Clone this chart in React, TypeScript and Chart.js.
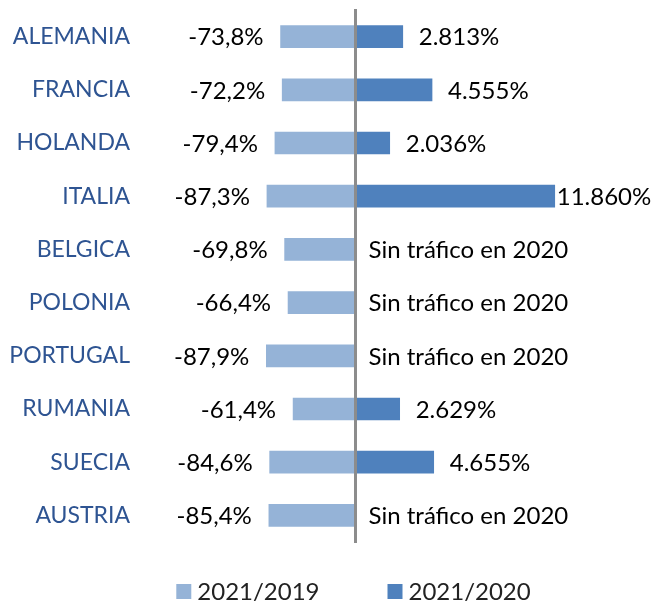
import React, { useEffect, useRef } from 'react';
import { Chart, registerables } from 'chart.js';

Chart.register(...registerables);

// ---- Data ----
const categories = ['ALEMANIA', 'FRANCIA', 'HOLANDA', 'ITALIA', 'BELGICA', 'POLONIA', 'PORTUGAL', 'RUMANIA', 'SUECIA', 'AUSTRIA'];
const change2021vs2019 = [-73.8, -72.2, -79.4, -87.3, -69.8, -66.4, -87.9, -61.4, -84.6, -85.4];
const change2021vs2020: (number | null)[] = [2813, 4555, 2036, 11860, null, null, null, 2629, 4655, null];
const seriesLabels = ['2021/2019', '2021/2020'];
const noTrafficText = 'Sin tráfico en 2020';

// ---- Style ----
const FONT = 'Lato, "Noto Sans", sans-serif';
const FS = 24;
const CAT_FS = 23;
const LIGHT = '#95B3D7';
const DARK = '#4F81BD';
const CAT_COLOR = '#2E5492';

const fmtLeft = (v: number) => v.toFixed(1).replace('.', ',') + '%';
const fmtRight = (v: number) => String(Math.round(v)).replace(/\B(?=(\d{3})+(?!\d))/g, '.') + '%';

const valueLabels = {
  id: 'valueLabels',
  afterDatasetsDraw(chart: any) {
    const ctx = chart.ctx;
    ctx.save();
    ctx.font = `${FS}px ${FONT}`;
    ctx.fillStyle = '#000';
    ctx.textBaseline = 'middle';
    const m0 = chart.getDatasetMeta(0);
    m0.data.forEach((bar: any, i: number) => {
      const v = chart.data.datasets[0].data[i];
      if (v == null) return;
      ctx.textAlign = 'right';
      ctx.fillText(fmtLeft(v), bar.x - 17, bar.y + 1);
    });
    const zeroX = chart.scales.x2.getPixelForValue(0);
    const m1 = chart.getDatasetMeta(1);
    chart.data.labels.forEach((_: any, i: number) => {
      const v = chart.data.datasets[1].data[i];
      const y = chart.scales.y.getPixelForValue(i) + 1;
      ctx.textAlign = 'left';
      if (v == null) {
        ctx.fillText(noTrafficText, zeroX + 13, y);
      } else {
        const bar = m1.data[i];
        const t = fmtRight(v);
        const w = ctx.measureText(t).width;
        let x = Math.min(bar.x + 16, chart.width - 3 - w);
        x = Math.max(x, bar.x + 2);
        ctx.fillText(t, x, y);
      }
    });
    ctx.restore();
  },
};

const bottomLegend = {
  id: 'bottomLegend',
  afterDraw(chart: any) {
    const ctx = chart.ctx;
    ctx.save();
    ctx.font = `${FS}px ${FONT}`;
    ctx.textBaseline = 'middle';
    ctx.textAlign = 'left';
    const box = 15, gap = 6, itemGap = 68;
    const items = chart.data.datasets.map((d: any) => ({
      text: d.label,
      color: d.backgroundColor,
      w: ctx.measureText(d.label).width,
    }));
    const total = items.reduce((s: number, it: any) => s + box + gap + it.w, 0) + itemGap * (items.length - 1);
    const cy = 591.5;
    let x = 353.5 - total / 2;
    items.forEach((it: any) => {
      ctx.fillStyle = it.color;
      ctx.fillRect(x, cy - box / 2, box, box);
      ctx.fillStyle = '#222';
      ctx.fillText(it.text, x + box + gap, cy + 1);
      x += box + gap + it.w + itemGap;
    });
    ctx.restore();
  },
};

export default function App() {
  const ref = useRef<HTMLCanvasElement | null>(null);

  useEffect(() => {
    document.body.style.margin = '0';
    let chart: Chart | null = null;
    let cancelled = false;
    const build = () => {
      if (cancelled || !ref.current) return;
      chart = new Chart(ref.current, {
        type: 'bar',
        data: {
          labels: categories,
          datasets: [
            {
              label: seriesLabels[0],
              data: change2021vs2019,
              backgroundColor: LIGHT,
              xAxisID: 'x',
              yAxisID: 'y',
              grouped: false,
              barThickness: 22,
            },
            {
              label: seriesLabels[1],
              data: change2021vs2020,
              backgroundColor: DARK,
              xAxisID: 'x2',
              yAxisID: 'y',
              grouped: false,
              barThickness: 22,
            },
          ] as any,
        },
        options: {
          indexAxis: 'y',
          animation: false,
          responsive: false,
          maintainAspectRatio: false,
          layout: { padding: { left: 0, right: 0, top: 10, bottom: 60 } },
          plugins: {
            legend: { display: false },
            tooltip: { enabled: false },
          },
          scales: {
            x: { type: 'linear', display: false, min: -213, max: 293 },
            x2: { type: 'linear', display: false, min: -12830, max: 17590 },
            y: {
              type: 'category',
              position: 'left',
              afterFit: (s: any) => {
                s.width = 140;
                s.paddingTop = 0;
                s.paddingBottom = 0;
              },
              grid: { display: false, drawTicks: false },
              border: { display: false },
              ticks: { color: CAT_COLOR, font: { family: FONT, size: CAT_FS }, padding: 10 },
            },
            y2: {
              type: 'category',
              position: { x: 0 } as any,
              afterFit: (s: any) => {
                s.paddingTop = 0;
                s.paddingBottom = 0;
              },
              grid: { display: false, drawTicks: false },
              ticks: { display: false },
              border: { display: true, color: '#8C8C8C', width: 3, z: 1 } as any,
            },
          },
        } as any,
        plugins: [valueLabels, bottomLegend],
      });
    };
    const fontsReady = (document as any).fonts && (document as any).fonts.load
      ? Promise.all([(document as any).fonts.load(`${FS}px Lato`)]).catch(() => null)
      : Promise.resolve(null);
    fontsReady.then(build);
    return () => {
      cancelled = true;
      if (chart) chart.destroy();
    };
  }, []);

  return (
    <div style={{ width: 651, height: 602, position: 'relative' }}>
      <canvas ref={ref} width={651} height={602} style={{ width: 651, height: 602, display: 'block' }} />
    </div>
  );
}
